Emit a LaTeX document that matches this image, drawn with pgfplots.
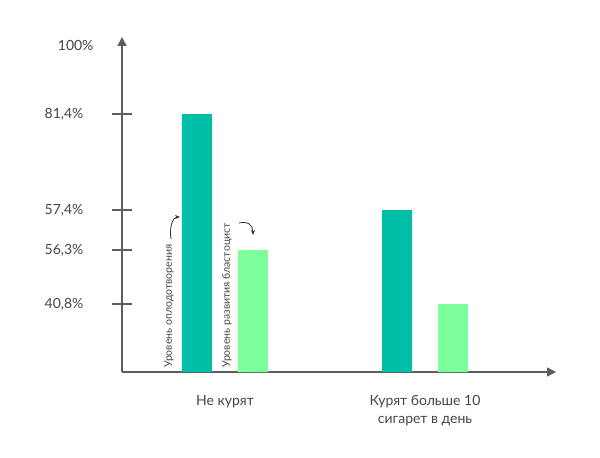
\documentclass[border=0pt]{standalone}
\usepackage{fontspec}
\setmainfont{Lato}
\usepackage{pgfplots}
\pgfplotsset{compat=1.18}
\usetikzlibrary{arrows.meta}
\definecolor{teal1}{HTML}{00BFA9}
\definecolor{green1}{HTML}{7DFF9B}
\definecolor{axgray}{HTML}{5E5E5E}
\definecolor{txtgray}{HTML}{454545}
\begin{document}
\begin{tikzpicture}[x=1pt,y=1pt]
\useasboundingbox (-122,-86) rectangle (478,372);
\begin{axis}[
  scale only axis,
  width=434pt, height=335pt,
  at={(0,0)}, anchor=south west,
  axis lines=left,
  axis line style={axgray, line width=1.6pt, -{Triangle[length=9pt,width=9pt]}},
  xmin=-0.515, xmax=1.655,
  ymin=0, ymax=102.16,
  y coord trafo/.code={\pgfmathparse{ifthenelse(#1<=40.8, #1*68/40.8, ifthenelse(#1<=56.3, 68+(#1-40.8)*54/15.5, ifthenelse(#1<=57.4, 122+(#1-56.3)*40/1.1, ifthenelse(#1<=81.4, 162+(#1-57.4)*4, 258+(#1-81.4)*69/18.6))))}},
  ybar=26pt, bar width=30pt,
  xtick={0,1},
  xticklabels={Не курят, {Курят больше 10\\сигарет в день}},
  xticklabel style={align=center, font=\fontsize{14}{18}\selectfont, text=txtgray, yshift=-10pt},
  x tick style={draw=none},
  ytick={40.8,56.3,57.4,81.4},
  yticklabels={{40,8\%},{56,3\%},{57,4\%},{81,4\%}},
  extra y ticks={100},
  extra y tick labels={100\%},
  extra y tick style={major tick length=0pt},
  tick align=center,
  major tick length=20pt,
  y tick style={axgray, line width=1.6pt},
  yticklabel style={font=\fontsize{14}{16}\selectfont, text=txtgray, anchor=east, xshift=-25pt},
]
\addplot[fill=teal1, draw=none] coordinates {(0,81.4) (1,57.4)};
\addplot[fill=green1, draw=none] coordinates {(0,56.3) (1,40.8)};
\end{axis}
\node[rotate=90, anchor=west, inner sep=0pt, text=txtgray, font=\fontsize{10.5}{12}\selectfont] at (47,4) {Уровень оплодотворения};
\node[rotate=90, anchor=west, inner sep=0pt, text=txtgray, font=\fontsize{10.5}{12}\selectfont] at (105,4) {Уровень развития бластоцист};
\draw[black!80, line width=0.8pt, -{Stealth[length=5pt,width=4pt]}] (49,133) .. controls (47,145) and (51,155) .. (58,155);
\draw[black!80, line width=0.8pt, -{Stealth[length=5pt,width=4pt]}] (117,149) .. controls (126,151) and (131,147) .. (131,137);
\end{tikzpicture}
\end{document}
